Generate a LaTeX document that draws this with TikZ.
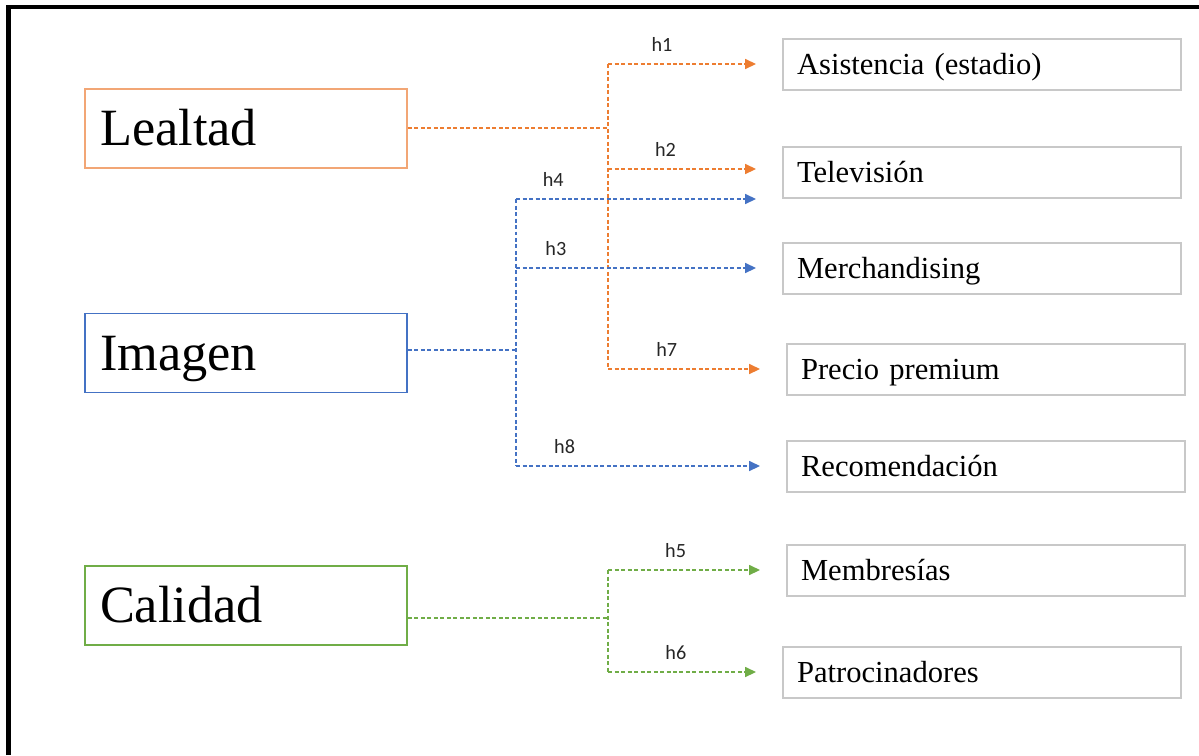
\documentclass[tikz,border=0pt]{standalone}
\usepackage{fontspec}
\setmainfont{Liberation Serif}
\newfontfamily\etiqfont{Carlito}
\usetikzlibrary{arrows.meta}
\definecolor{naranja}{HTML}{ED7D31}
\definecolor{naranjacl}{HTML}{F2A675}
\definecolor{azul}{HTML}{4472C4}
\definecolor{verde}{HTML}{70AD47}
\definecolor{gris}{HTML}{C8C8C8}
\tikzset{
  constructo/.style={draw, line width=0.036cm, minimum height=1.58cm, text width=5.84cm,
    inner xsep=0.3cm, align=left, font=\fontsize{29.8}{32}\selectfont,
    text height=26.8pt, text depth=7.1pt},
  indicador/.style={draw=gris, line width=0.04cm, minimum height=1.02cm, text width=7.4cm,
    inner xsep=0.28cm, align=left, font=\fontsize{17.4}{19}\selectfont,
    text height=15.7pt, text depth=4.1pt},
  flecha/.style={line width=0.032cm, dash pattern=on 0.08cm off 0.05cm},
  punta/.style={-{Triangle[length=0.22cm,width=0.2cm]}, shorten >=0.52cm},
  etiq/.style={font=\etiqfont\fontsize{11.5}{13}\selectfont, inner sep=0pt, above=0.24cm, text=black!85}
}
\begin{document}
\begin{tikzpicture}[x=0.02cm, y=-0.02cm]
  \useasboundingbox (0,0) rectangle (1199,755);
  % Marco
  \draw[line width=0.09cm] (8.5,755) -- (8.5,7) -- (1199,7);
  % Constructos
  \node[constructo, draw=naranjacl] (leal) at (246,128.5) {Lealtad};
  \node[constructo, draw=azul] (imag) at (246,353) {Imagen};
  \node[constructo, draw=verde] (cali) at (246,605.5) {Calidad};
  % Indicadores
  \node[indicador] (asis) at (982,64) {Asistencia (estadio)};
  \node[indicador] (tele) at (982,172.5) {Televisión};
  \node[indicador] (merc) at (982,268) {Merchandising};
  \node[indicador] (prec) at (986,369) {Precio premium};
  \node[indicador] (reco) at (986,466) {Recomendación};
  \node[indicador] (memb) at (986,570) {Membresías};
  \node[indicador] (patr) at (982,672) {Patrocinadores};
  % Lealtad
  \coordinate (jL) at (608,128);
  \draw[flecha, naranja] (leal.east |- jL) -- (jL);
  \draw[flecha, naranja] (jL |- asis.west) -- (jL |- prec.west);
  \draw[flecha, naranja, punta] (jL |- asis.west) -- node[etiq, pos=0.31] {h1} (asis.west);
  \draw[flecha, naranja, punta] ([yshift=0.07cm]jL |- tele.west) -- node[etiq, pos=0.33] {h2} ([yshift=0.07cm]tele.west);
  \draw[flecha, naranja, punta] (jL |- prec.west) -- node[etiq, pos=0.33] {h7} (prec.west);
  % Imagen
  \coordinate (jI) at (516,350);
  \draw[flecha, azul] (imag.east |- jI) -- (jI);
  \draw[flecha, azul] (jI |- tele.south west) -- (jI |- reco.west);
  \draw[flecha, azul, punta] (jI |- tele.south west) -- node[etiq, pos=0.14] {h4} (tele.south west);
  \draw[flecha, azul, punta] (jI |- merc.west) -- node[etiq, pos=0.15] {h3} (merc.west);
  \draw[flecha, azul, punta] (jI |- reco.west) -- node[etiq, pos=0.18] {h8} (reco.west);
  % Calidad
  \coordinate (jC) at (608,618);
  \draw[flecha, verde] (cali.east |- jC) -- (jC);
  \draw[flecha, verde] (jC |- memb.west) -- (jC |- patr.west);
  \draw[flecha, verde, punta] (jC |- memb.west) -- node[etiq, pos=0.38] {h5} (memb.west);
  \draw[flecha, verde, punta] (jC |- patr.west) -- node[etiq, pos=0.39] {h6} (patr.west);
\end{tikzpicture}
\end{document}
